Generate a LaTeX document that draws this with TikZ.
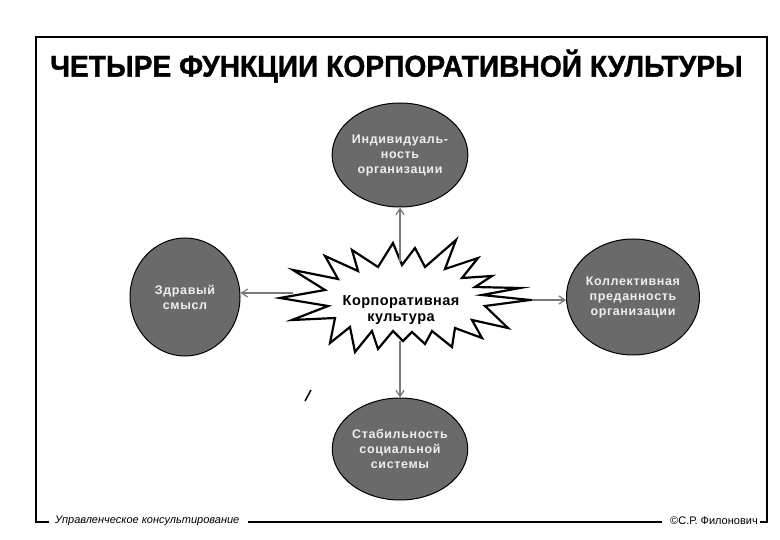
\documentclass[tikz,border=0pt]{standalone}
\usepackage{fontspec}
\setmainfont{Liberation Sans}
\usetikzlibrary{arrows.meta,shapes.geometric}
\definecolor{ballgray}{HTML}{6A6A6A}
\definecolor{linegray}{HTML}{7A7A7A}
\definecolor{balltext}{HTML}{EEEEEE}
\begin{document}
\begin{tikzpicture}[x=1pt,y=-1pt,
  ball/.style={ellipse, draw=black, line width=1pt, fill=ballgray, text=balltext,
    font=\bfseries\fontsize{12.5}{15}\selectfont\addfontfeatures{LetterSpace=5}, align=center, inner sep=0pt},
  conn/.style={draw=linegray, line width=1.3pt, -{Straight Barb[length=6pt,width=8pt]}},
  burst/.style={draw=black, fill=white, line width=2.2pt, line join=miter, miter limit=25},
  frame/.style={draw=black, line width=1.6pt},
  foot/.style={font=\fontsize{11}{13}\selectfont, inner sep=0pt, anchor=west}]
\useasboundingbox (0,0) rectangle (780,540);
\fill[white] (0,0) rectangle (780,540);

% frame
\draw[frame] (49,522) -- (36,522) -- (36,37) -- (767,37) -- (767,522) -- (760,522);
\draw[frame] (248,522) -- (662,522);
\node[foot] (fl) at (55,521) {\itshape Управленческое консультирование};
\node[foot] (fr) at (670,521) {©С.Р. Филонович};

% title
\node[font=\bfseries\fontsize{30}{34}\selectfont\addfontfeatures{FakeBold=1.2}, anchor=west, inner sep=0pt, xscale=0.94] (title) at (50,66) {ЧЕТЫРЕ ФУНКЦИИ КОРПОРАТИВНОЙ КУЛЬТУРЫ};

% circles
\node[ball, minimum width=115pt, minimum height=104pt] (top) at (400,155) {Индивидуаль-\\ность\\организации};
\node[ball, minimum width=110pt, minimum height=118pt] (left) at (185,297) {Здравый\\смысл};
\node[ball, minimum width=116pt, minimum height=116pt] (right) at (633,297) {Коллективная\\преданность\\организации};
\node[ball, minimum width=115pt, minimum height=102pt] (bottom) at (400,449) {Стабильность\\социальной\\системы};

% burst
\draw[burst] (530,300) -- (485,306) -- (508,328) -- (472,320) -- (482,338) -- (455,328)
  -- (452,347) -- (432,331) -- (425,344) -- (412,332) -- (403,341) -- (393,331)
  -- (378,349) -- (372,331) -- (355,352) -- (350,327) -- (330,343) -- (335,318)
  -- (292,320) -- (328,306) -- (280,298) -- (325,290) -- (293,270) -- (338,279)
  -- (325,256) -- (358,271) -- (352,250) -- (378,267) -- (393,243) -- (402,265)
  -- (415,248) -- (425,267) -- (456,240) -- (445,269) -- (478,258) -- (462,278)
  -- (492,276) -- (475,287) -- (520,288) -- (482,295) -- cycle;
\node[font=\bfseries\fontsize{14.5}{16.5}\selectfont\addfontfeatures{LetterSpace=3}, align=center, inner sep=0pt] (core) at (401,310) {Корпоративная\\культура};

% connectors
\coordinate (sN) at (400,262);
\coordinate (sW) at (293,293);
\coordinate (sE) at (532,300);
\coordinate (sS) at (400,341);
\draw[conn] (sN) -- (top);
\draw[conn] (sW) -- (left.east |- sW);
\draw[conn] (sE) -- (right.west |- sE);
\draw[conn] (sS) -- (bottom);

% stray mark
\draw[line width=1.5pt] (305,401) -- (311,390);
\end{tikzpicture}
\end{document}
